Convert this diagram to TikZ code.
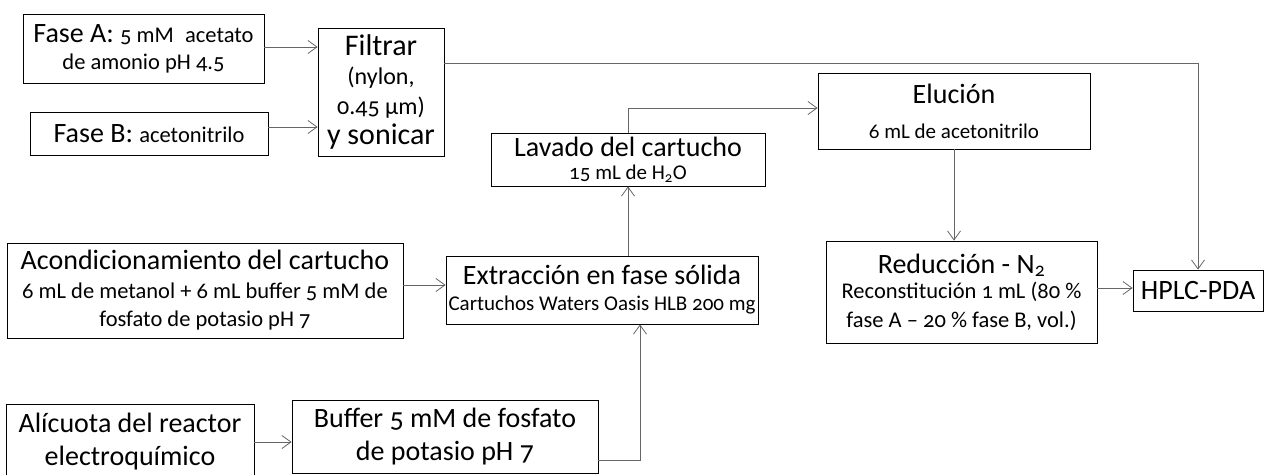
\documentclass[tikz,border=0pt]{standalone}
\usepackage{fontspec}
\setmainfont{Carlito}[Numbers=OldStyle]
\usetikzlibrary{arrows.meta}
\newcommand\szA{\fontsize{28}{30}\selectfont}
\newcommand\szF{\fontsize{30}{30}\selectfont}
\newcommand\szB{\fontsize{22.5}{30}\selectfont}
\newcommand\szC{\fontsize{21}{30}\selectfont}
\newcommand\szD{\fontsize{24}{30}\selectfont}
\begin{document}
\begin{tikzpicture}[x=1pt,y=-1pt,
  box/.style={draw=black, line width=0.8pt, inner sep=0pt, align=center, anchor=center,
    font=\fontsize{28}{30}\selectfont},
  conn/.style={draw=black!60, line width=0.8pt},
  arr/.style={conn, -{Straight Barb[length=9pt,width=13pt]}}]
\useasboundingbox (0,0) rectangle (1265,474);
\node[box, minimum width=241pt, minimum height=69pt] (faseA) at (143.5,48.5)
  {{\szA Fase A:} \szB 5 mM\enspace acetato\\[-3pt] \szB de amonio pH 4.5};
\node[box, minimum width=238pt, minimum height=43pt] (faseB) at (149,133.5)
  {{\szA Fase B:} \szB acetonitrilo};
\node[box, minimum width=126pt, minimum height=128pt] (filtrar) at (381,92)
  {\szF Filtrar\\[-1pt] \szD (nylon,\\ \szD 0.45 µm)\\ \szF y sonicar};
\node[box, minimum width=274pt, minimum height=53pt] (lavado) at (628,159.5)
  {\szA Lavado del cartucho\\[-7pt] \szC 15 mL de H\textsubscript{2}O};
\node[box, minimum width=272pt, minimum height=76pt] (elucion) at (954,111)
  {\szA Elución\\[5pt] \szC 6 mL de acetonitrilo};
\node[box, minimum width=396pt, minimum height=95pt] (acond) at (205,290.5)
  {\szA Acondicionamiento del cartucho\\[-1pt] \szB 6 mL de metanol + 6 mL buffer 5 mM de\\[-2pt] \szB fosfato de potasio pH 7};
\node[box, minimum width=312pt, minimum height=68pt] (extr) at (602,290)
  {\szA Extracción en fase sólida\\[-4pt] \szC Cartuchos Waters Oasis HLB 200 mg};
\node[box, minimum width=271pt, minimum height=102pt] (red) at (961.5,292)
  {\szA Reducción - N\textsubscript{2}\\[-5pt] \szB Reconstitución 1 mL (80 \%\\[-1pt] \szB fase A – 20 \% fase B, vol.)};
\node[box, minimum width=130pt, minimum height=41pt] (hplc) at (1198,290.5)
  {\szA HPLC-PDA};
\node[box, minimum width=248pt, minimum height=76pt] (alic) at (130,442)
  {\szA Alícuota del reactor\\[3pt] \szA electroquímico};
\node[box, minimum width=306pt, minimum height=73pt] (buffer) at (445,436.5)
  {\szA Buffer 5 mM de fosfato\\[3pt] \szA de potasio pH 7};
% connectors
\coordinate (c1) at (1198,63);
\coordinate (c2) at (640,460);
\draw[arr] (faseA.east |- 0,47) -- (filtrar.west |- 0,47);
\draw[arr] (faseB.east |- 0,127) -- (filtrar.west |- 0,127);
\draw[arr] (filtrar.east |- c1) -- (c1) -- (hplc.north);
\draw[arr] (lavado.north) |- (elucion.west |- 0,108);
\draw[arr] (lavado.south |- extr.north) -- (lavado.south);
\draw[arr] (elucion.south) -- (elucion.south |- red.north);
\draw[arr] (red.east |- 0,288) -- (hplc.west |- 0,288);
\draw[arr] (acond.east |- 0,285) -- (extr.west |- 0,285);
\draw[arr] (alic.east |- 0,442) -- (buffer.west |- 0,442);
\draw[arr] (buffer.east |- c2) -- (c2) -- (c2 |- extr.south);
\end{tikzpicture}
\end{document}
